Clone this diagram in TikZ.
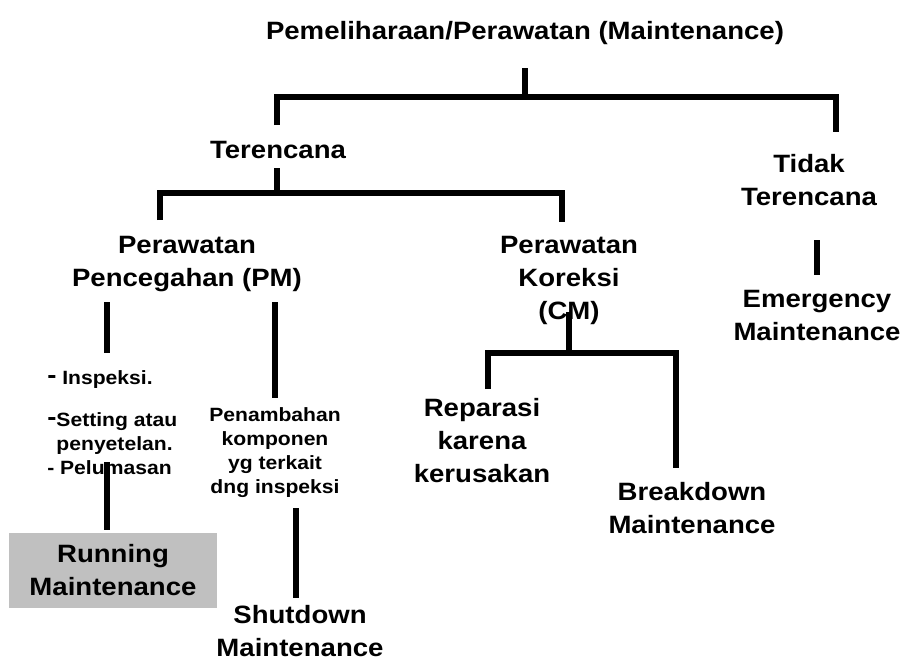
\documentclass[tikz,border=0pt]{standalone}
\usepackage{fontspec}
\setmainfont{Liberation Sans}[FakeStretch=1.1]
\definecolor{boxgray}{HTML}{C0C0C0}
\newcommand{\bigdash}{{\fontsize{18.8pt}{20pt}\selectfont\raisebox{1pt}{-}}}
\begin{document}
\begin{tikzpicture}[x=0.75pt,y=-0.75pt,
  big/.style={font=\bfseries\fontsize{18.8pt}{24.75pt}\selectfont, align=center, inner sep=0pt},
  small/.style={font=\bfseries\fontsize{14.4pt}{18pt}\selectfont, align=center, inner sep=0pt},
  conn/.style={line width=4pt, line join=miter}]
\useasboundingbox (0,0) rectangle (902,661);

% nodes
\node[big] (root) at (525,33) {Pemeliharaan/Perawatan (Maintenance)};
\node[big] (ter) at (278,150) {Terencana};
\node[big] (tidak) at (809,180) {Tidak\\Terencana};
\node[big] (pm) at (187,264) {Perawatan\\Pencegahan (PM)};
\node[big] (cm) at (569,280) {Perawatan\\Koreksi\\(CM)};
\node[big] (em) at (817,315) {Emergency\\Maintenance};
\node[small, anchor=west] (insp) at (47,380) {\bigdash{} Inspeksi.};
\node[small, anchor=west, align=left] (set) at (47,444) {\bigdash Setting atau\\\hphantom{\bigdash}penyetelan.\\- Pelumasan};
\node[small] (pen) at (275,453) {Penambahan\\komponen\\yg terkait\\dng inspeksi};
\node[big] (rep) at (482,441) {Reparasi\\karena\\kerusakan};
\node[big] (bd) at (692,508) {Breakdown\\Maintenance};
\node[big, fill=boxgray, minimum width=156pt, minimum height=56.25pt] (run) at (113,570.5) {Running\\Maintenance};
\node[big] (sd) at (300,631) {Shutdown\\Maintenance};

% junction coordinates
\coordinate (r0) at (525,68);
\coordinate (r1) at (525,97);
\coordinate (r2) at (277,97);
\coordinate (r3) at (836,97);
\coordinate (r4) at (277,125);
\coordinate (r5) at (836,132);
\coordinate (t0) at (277,168);
\coordinate (t1) at (277,193);
\coordinate (t2) at (160,193);
\coordinate (t3) at (562,193);
\coordinate (t4) at (160,220);
\coordinate (t5) at (562,222);
\coordinate (e0) at (817,240);
\coordinate (e1) at (817,275);
\coordinate (p0) at (107,302);
\coordinate (p1) at (107,353);
\coordinate (p2) at (275,302);
\coordinate (p3) at (275,398);
\coordinate (c0) at (569,312);
\coordinate (c1) at (569,353);
\coordinate (c2) at (488,353);
\coordinate (c3) at (676,353);
\coordinate (c4) at (488,389);
\coordinate (c5) at (676,468);
\coordinate (u0) at (107,462);
\coordinate (u1) at (107,530);
\coordinate (s0) at (296,508);
\coordinate (s1) at (296,598);

% connectors
\draw[conn] (r0) -- (r1);
\draw[conn] (r4) -- (r2) -- (r3) -- (r5);
\draw[conn] (t0) -- (t1);
\draw[conn] (t4) -- (t2) -- (t3) -- (t5);
\draw[conn] (e0) -- (e1);
\draw[conn] (p0) -- (p1);
\draw[conn] (p2) -- (p3);
\draw[conn] (c0) -- (c1);
\draw[conn] (c4) -- (c2) -- (c3) -- (c5);
\draw[conn] (u0) -- (u1);
\draw[conn] (s0) -- (s1);
\end{tikzpicture}
\end{document}
